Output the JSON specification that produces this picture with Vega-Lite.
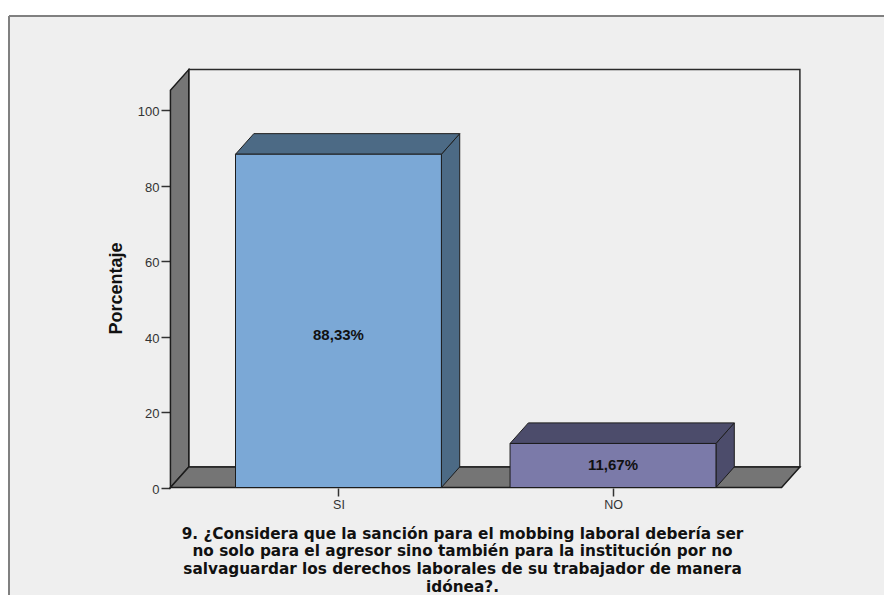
{
  "$schema": "https://vega.github.io/schema/vega-lite/v6.json",
  "width": 875,
  "height": 579,
  "autosize": "none",
  "padding": {"left": 9, "top": 16, "right": 0, "bottom": 0},
  "background": "#ffffff",
  "config": {"view": {"fill": "#efefef", "stroke": null}},
  "params": [
    {"name": "semiAncho", "value": 0.375},
    {"name": "dx", "value": 0.0667},
    {"name": "dy", "value": 5.46},
    {"name": "izq", "value": 0.388},
    {"name": "der", "value": 2.614},
    {"name": "techo", "value": 105.3}
  ],
  "datasets": {
    "respuestas": [
      {"respuesta": "SI", "orden": 1, "porcentaje": 88.33},
      {"respuesta": "NO", "orden": 2, "porcentaje": 11.67}
    ],
    "profundidad": [{"prof": 0}, {"prof": 1}],
    "marco": [{"prof": 0}]
  },
  "encoding": {
    "x": {
      "field": "xp",
      "type": "quantitative",
      "scale": {"domain": [-0.2, 2.987], "nice": false, "zero": false},
      "axis": {
        "orient": "bottom",
        "offset": -107,
        "values": [1, 2],
        "labelExpr": "datum.value == 1 ? 'SI' : 'NO'",
        "domain": false,
        "grid": false,
        "tickSize": 8,
        "tickColor": "#333333",
        "tickWidth": 1.5,
        "labelFont": "Liberation Sans",
        "labelFontSize": 12.5,
        "labelColor": "#333333",
        "labelPadding": 2,
        "title": [
          "9. ¿Considera que la sanción para el mobbing laboral debería ser",
          "no solo para el agresor sino también para la institución por no",
          "salvaguardar los derechos laborales de su trabajador de manera",
          "idónea?."
        ],
        "titleFont": "DejaVu Sans",
        "titleFontWeight": "bold",
        "titleFontSize": 15.3,
        "titleColor": "#111111",
        "titleLineHeight": 17.8,
        "titleAlign": "center",
        "titleAnchor": "middle",
        "titleBaseline": "alphabetic",
        "titleX": 453,
        "titleY": 50
      }
    },
    "y": {
      "field": "yp",
      "type": "quantitative",
      "stack": null,
      "scale": {"domain": [-28.49, 124.97], "nice": false, "zero": false},
      "axis": {
        "orient": "left",
        "offset": -161,
        "values": [0, 20, 40, 60, 80, 100],
        "domain": false,
        "grid": false,
        "tickSize": 9,
        "tickColor": "#333333",
        "tickWidth": 1.5,
        "labelFont": "Liberation Sans",
        "labelFontSize": 13,
        "labelColor": "#333333",
        "labelPadding": 2,
        "labelOffset": 1.5,
        "title": "Porcentaje",
        "titleFont": "Liberation Sans",
        "titleFontWeight": "bold",
        "titleFontSize": 18,
        "titleColor": "#111111",
        "titleAngle": -90,
        "titleAlign": "center",
        "titleBaseline": "alphabetic",
        "titleX": -49,
        "titleY": 272
      }
    }
  },
  "layer": [
    {
      "name": "borde del panel, arriba",
      "data": {"name": "marco"},
      "transform": [
        {"calculate": "-0.2", "as": "xp"},
        {"calculate": "2.987", "as": "xf"},
        {"calculate": "124.97", "as": "yp"}
      ],
      "mark": {"type": "rule", "stroke": "#808080", "strokeWidth": 2},
      "encoding": {"x2": {"field": "xf"}}
    },
    {
      "name": "borde del panel, izquierda",
      "data": {"name": "marco"},
      "transform": [
        {"calculate": "-0.2", "as": "xp"},
        {"calculate": "124.97", "as": "yp"},
        {"calculate": "-28.49", "as": "yf"}
      ],
      "mark": {"type": "rule", "stroke": "#808080", "strokeWidth": 2},
      "encoding": {"y2": {"field": "yf"}}
    },
    {
      "name": "pared del fondo",
      "data": {"name": "marco"},
      "transform": [
        {"calculate": "izq + dx", "as": "xp"},
        {"calculate": "der + dx", "as": "xf"},
        {"calculate": "dy", "as": "yp"},
        {"calculate": "techo + dy", "as": "yf"}
      ],
      "mark": {"type": "rect", "fill": "#efefef", "stroke": "#2a2a2a", "strokeWidth": 1.5},
      "encoding": {"x2": {"field": "xf"}, "y2": {"field": "yf"}}
    },
    {
      "name": "pared izquierda",
      "data": {"name": "profundidad"},
      "transform": [
        {"calculate": "izq + datum.prof * dx", "as": "xp"},
        {"calculate": "techo + datum.prof * dy", "as": "yp"},
        {"calculate": "datum.prof * dy", "as": "yf"}
      ],
      "mark": {"type": "area", "orient": "vertical", "fill": "#757575", "stroke": "#1c1c1c", "strokeWidth": 1.5},
      "encoding": {"y2": {"field": "yf"}}
    },
    {
      "name": "suelo",
      "data": {"name": "profundidad"},
      "transform": [
        {"calculate": "izq + datum.prof * dx", "as": "xp"},
        {"calculate": "der + datum.prof * dx", "as": "xf"},
        {"calculate": "datum.prof * dy", "as": "yp"}
      ],
      "mark": {"type": "area", "orient": "horizontal", "fill": "#757575", "stroke": "#1c1c1c", "strokeWidth": 1.5},
      "encoding": {"x2": {"field": "xf"}}
    },
    {
      "name": "lateral de cada barra",
      "data": {"name": "respuestas"},
      "transform": [
        {"calculate": "[0, 1]", "as": "prof"},
        {"flatten": ["prof"]},
        {"calculate": "datum.orden + semiAncho + datum.prof * dx", "as": "xp"},
        {"calculate": "datum.porcentaje + datum.prof * dy", "as": "yp"},
        {"calculate": "datum.prof * dy", "as": "yf"},
        {"calculate": "datum.respuesta + ' sombra'", "as": "tono"}
      ],
      "mark": {"type": "area", "orient": "vertical", "stroke": "#1c1c1c", "strokeWidth": 1},
      "encoding": {
        "y2": {"field": "yf"},
        "color": {
          "field": "tono",
          "type": "nominal",
          "legend": null,
          "scale": {
            "domain": ["SI", "NO", "SI sombra", "NO sombra"],
            "range": ["#7ba8d6", "#7b7aa9", "#4c6a85", "#4c4c6b"]
          }
        }
      }
    },
    {
      "name": "cara superior de cada barra",
      "data": {"name": "respuestas"},
      "transform": [
        {"calculate": "[0, 1]", "as": "prof"},
        {"flatten": ["prof"]},
        {"calculate": "datum.orden - semiAncho + datum.prof * dx", "as": "xp"},
        {"calculate": "datum.orden + semiAncho + datum.prof * dx", "as": "xf"},
        {"calculate": "datum.porcentaje + datum.prof * dy", "as": "yp"},
        {"calculate": "datum.respuesta + ' sombra'", "as": "tono"}
      ],
      "mark": {"type": "area", "orient": "horizontal", "stroke": "#1c1c1c", "strokeWidth": 1},
      "encoding": {
        "x2": {"field": "xf"},
        "color": {"field": "tono", "type": "nominal", "legend": null}
      }
    },
    {
      "name": "cara frontal de cada barra",
      "data": {"name": "respuestas"},
      "transform": [
        {"calculate": "datum.orden - semiAncho", "as": "xp"},
        {"calculate": "datum.orden + semiAncho", "as": "xf"},
        {"calculate": "datum.porcentaje", "as": "yp"},
        {"calculate": "0", "as": "yf"},
        {"calculate": "datum.respuesta", "as": "tono"}
      ],
      "mark": {"type": "rect", "stroke": "#1c1c1c", "strokeWidth": 1},
      "encoding": {
        "x2": {"field": "xf"},
        "y2": {"field": "yf"},
        "color": {"field": "tono", "type": "nominal", "legend": null}
      }
    },
    {
      "name": "etiqueta de porcentaje",
      "data": {"name": "respuestas"},
      "transform": [
        {"calculate": "datum.orden", "as": "xp"},
        {"calculate": "datum.porcentaje * 0.45 + 0.7", "as": "yp"},
        {"calculate": "replace(format(datum.porcentaje, '.2f'), '.', ',') + '%'", "as": "etiqueta"}
      ],
      "mark": {
        "type": "text",
        "font": "Liberation Sans",
        "fontWeight": "bold",
        "fontSize": 15,
        "fill": "#111111",
        "align": "center",
        "baseline": "middle"
      },
      "encoding": {"text": {"field": "etiqueta", "type": "nominal"}}
    }
  ]
}
